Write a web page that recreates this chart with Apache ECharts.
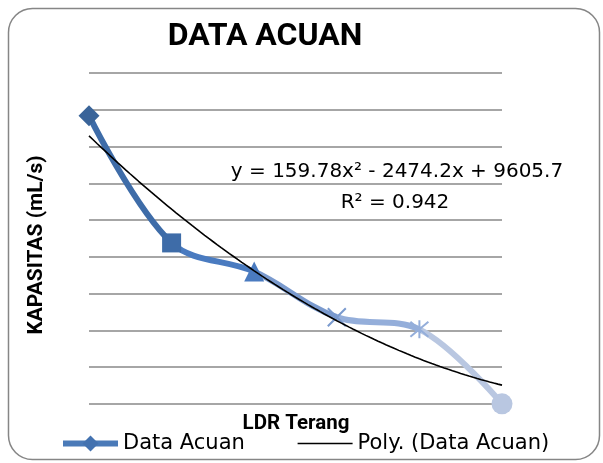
<!DOCTYPE html>
<html>
<head>
<meta charset="utf-8">
<script src="https://cdn.jsdelivr.net/npm/echarts@6/dist/echarts.min.js"></script>
<style>html,body{margin:0;padding:0;background:#fff}#c{width:603px;height:463px}</style>
</head>
<body>
<div id="c"></div>
<script>
// ---- data ----
const categories = [1, 2, 3, 4, 5, 6];            // point positions along "LDR Terang" (no tick labels shown)
const kapasitas = [7840, 4380, 3600, 2360, 2030, 5]; // Data Acuan values
const trendCoef = [159.78, -2474.2, 9605.7];       // y = a x^2 + b x + c (shown on chart)
const yMin = 0, yMax = 9000, yStep = 1000;         // hidden value axis (gridlines only)
const seriesName = 'Data Acuan';
const trendName = 'Poly. (Data Acuan)';
const equationText = 'y = 159.78x² - 2474.2x + 9605.7';
const r2Text = 'R² = 0.942';

// ---- styles ----
const pointColors = ['#3A6499', '#3E6CA8', '#4A7BC0', '#7A9ACE', '#94AEDA', '#B9C7E1'];
const pointSymbols = ['diamond', 'rect', 'triangle',
  'path://M0,0L10,10M10,0L0,10',
  'path://M0,0L10,10M10,0L0,10M5,-1L5,11',
  'circle'];
const pointSizes = [21, 19, 20, 18, 18, 21];

const dataPts = categories.map((x, i) => {
  const isStroke = i === 3 || i === 4;
  return {
    value: [x, kapasitas[i]],
    symbol: pointSymbols[i],
    symbolSize: pointSizes[i],
    itemStyle: isStroke
      ? { color: 'rgba(0,0,0,0)', borderColor: pointColors[i], borderWidth: 2 }
      : { color: pointColors[i], borderWidth: 0 }
  };
});

// segment colours (each segment takes its end point colour)
const stops = [];
const n = categories.length - 1;
for (let i = 0; i < n; i++) {
  stops.push({ offset: i / n, color: pointColors[i + 1] });
  stops.push({ offset: (i + 1) / n, color: pointColors[i + 1] });
}

const trend = [];
for (let x = categories[0]; x <= categories[categories.length - 1] + 1e-9; x += 0.05) {
  trend.push([x, trendCoef[0] * x * x + trendCoef[1] * x + trendCoef[2]]);
}

const chart = echarts.init(document.getElementById('c'), null, { renderer: 'canvas' });
chart.setOption({
  animation: false,
  backgroundColor: '#fff',
  grid: { left: 89, right: 101, top: 73, bottom: 59 },
  xAxis: {
    type: 'value', min: categories[0], max: categories[categories.length - 1],
    axisLine: { show: false }, axisTick: { show: false }, axisLabel: { show: false },
    splitLine: { show: false }
  },
  yAxis: {
    type: 'value', min: yMin, max: yMax, interval: yStep,
    axisLine: { show: false }, axisTick: { show: false }, axisLabel: { show: false },
    splitLine: { show: true, lineStyle: { color: '#888888', width: 1.5 } }
  },
  legend: {
    left: 55, top: 428,
    itemWidth: 55, itemHeight: 20, itemGap: 52,
    textStyle: { fontFamily: 'DejaVu Sans', fontSize: 21, color: '#000' },
    data: [
      { name: seriesName, itemStyle: { color: '#4372B0', borderWidth: 0 }, lineStyle: { color: '#4A7AB8', width: 6 } },
      { name: trendName, itemStyle: { opacity: 0 }, lineStyle: { color: '#000', width: 1.5 } }
    ]
  },
  series: [
    {
      name: trendName, type: 'line', data: trend, symbol: 'none', smooth: false,
      lineStyle: { color: '#000', width: 1.6 }, itemStyle: { color: '#000' }, z: 3
    },
    {
      name: seriesName, type: 'line', data: dataPts, smooth: 0.35,
      symbol: 'diamond', symbolSize: 18, showSymbol: true,
      lineStyle: { width: 6, color: { type: 'linear', x: 0, y: 0, x2: 1, y2: 0, colorStops: stops } },
      itemStyle: { color: '#3A6499' }, z: 2
    }
  ],
  graphic: [
    { type: 'rect', shape: { x: 8.5, y: 8.5, width: 591, height: 451, r: 24 },
      style: { fill: 'none', stroke: '#868686', lineWidth: 1.5 }, silent: true },
    { type: 'text', x: 265, y: 37,
      style: { text: 'DATA ACUAN', font: 'bold 32px Roboto', fill: '#000', align: 'center', verticalAlign: 'middle' } },
    { type: 'text', x: 37, y: 245, rotation: Math.PI / 2,
      style: { text: 'KAPASITAS (mL/s)', font: 'bold 21px Roboto', fill: '#000', align: 'center', verticalAlign: 'middle' } },
    { type: 'text', x: 296, y: 424,
      style: { text: 'LDR Terang', font: 'bold 20.5px Roboto', fill: '#000', align: 'center', verticalAlign: 'middle' } },
    { type: 'text', x: 397, y: 172, z: 10,
      style: { text: equationText, font: '20px "DejaVu Sans"', fill: '#000', align: 'center', verticalAlign: 'middle' } },
    { type: 'text', x: 395, y: 203, z: 10,
      style: { text: r2Text, font: '20px "DejaVu Sans"', fill: '#000', align: 'center', verticalAlign: 'middle' } }
  ]
});
</script>
</body>
</html>
